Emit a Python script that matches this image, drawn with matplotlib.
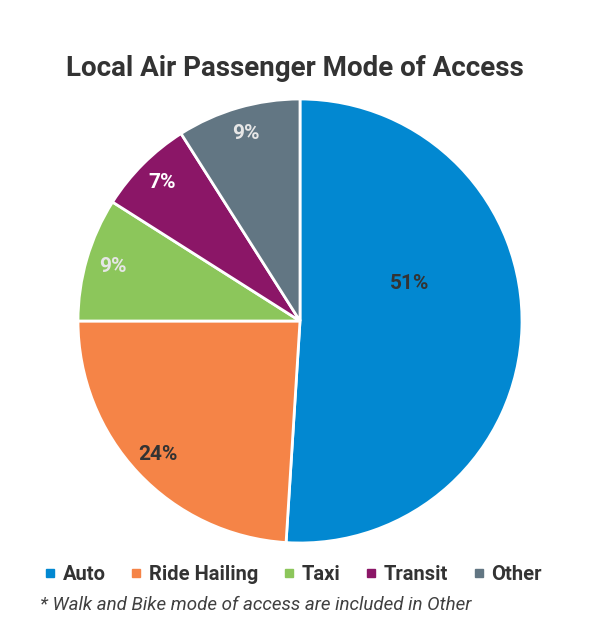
import matplotlib
matplotlib.use("Agg")
import matplotlib.pyplot as plt
from matplotlib.lines import Line2D
import numpy as np

categories = ["Auto", "Ride Hailing", "Taxi", "Transit", "Other"]
values = [51, 24, 9, 7, 9]
colors = ["#0288D1", "#F58447", "#8CC65B", "#8B1667", "#627683"]
label_colors = ["#333333", "#333333", "#E6E6E6", "#FFFFFF", "#E6E6E6"]
title = "Local Air Passenger Mode of Access"
footnote = "* Walk and Bike mode of access are included in Other"

fig = plt.figure(figsize=(5.89, 6.35), dpi=100)
ax = fig.add_axes([78/589, 92/635, 444/589, 444/635])

wedges, texts = ax.pie(values, colors=colors, startangle=90, counterclock=False,
                       wedgeprops=dict(edgecolor="white", linewidth=2))
ax.set_xlim(-1, 1)
ax.set_ylim(-1, 1)
ax.set_aspect("equal")

for i, (w, v) in enumerate(zip(wedges, values)):
    ang = np.deg2rad((w.theta1 + w.theta2) / 2)
    dist = 0.88
    if i == 0:
        ang = np.deg2rad(19)
        dist = 0.52
    ax.text(dist*np.cos(ang), dist*np.sin(ang), f"{v}%", ha="center", va="center",
            fontsize=15, fontweight="bold", color=label_colors[i], family="Roboto")

fig.text(0.5, 1 - 68/635, title, ha="center", va="center", fontsize=20,
         fontweight="bold", color="#333333", family="Roboto")

handles = [Line2D([], [], marker="s", linestyle="none", markersize=5.5,
                  markerfacecolor=c, markeredgecolor=c) for c in colors]
leg = fig.legend(handles, categories, loc="center", bbox_to_anchor=(293/589, 1 - 575/635),
                 ncol=5, frameon=False, handlelength=0.6, handletextpad=0.35,
                 columnspacing=1.2, prop=dict(family="Roboto", weight="bold", size=14.5))
for t in leg.get_texts():
    t.set_color("#333333")

fig.text(40/589, 1 - 605/635, footnote, ha="left", va="center", fontsize=13.5,
         fontstyle="italic", color="#404040", family="Roboto")

fig.savefig("out.png", dpi=100, facecolor="white")
